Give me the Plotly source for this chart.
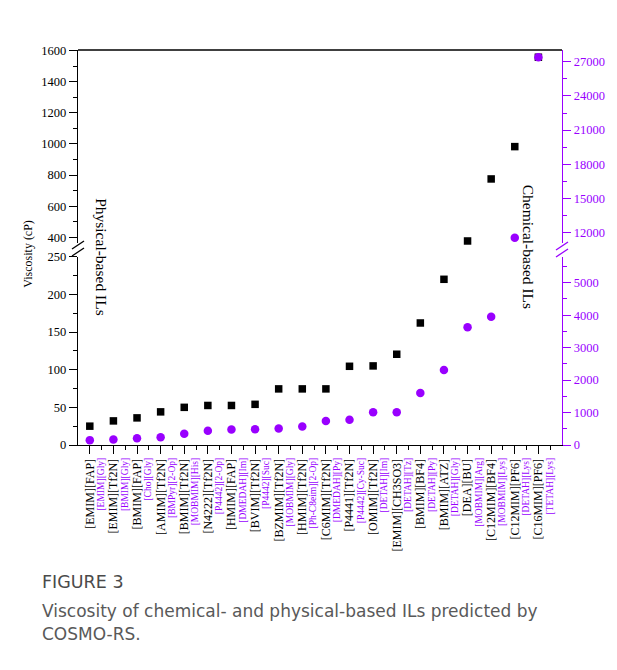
import numpy as np
import plotly.graph_objects as go

# ---------------- data ----------------
physical_ils = ["[EMIM][FAP]", "[EMIM][Tf2N]", "[BMIM][FAP]", "[AMIM][Tf2N]", "[BMIM][Tf2N]",
                "[N4222][Tf2N]", "[HMIM][FAP]", "[BVIM][Tf2N]", "[BZMIM][Tf2N]", "[HMIM][Tf2N]",
                "[C6MIM][Tf2N]", "[P4441][Tf2N]", "[OMIM][Tf2N]", "[EMIM][CH3SO3]", "[BMIM][BF4]",
                "[BMIM][ATZ]", "[DEA][BU]", "[C12MIM][BF4]", "[C12MIM][PF6]", "[C16MIM][PF6]"]
chemical_ils = ["[EMIM][Gly]", "[BMIM][Gly]", "[Cho][Gly]", "[BMPyr][2-Op]", "[MOBMIM][His]",
                "[P4442][2-Op]", "[DMEDAH][Im]", "[P4442][Suc]", "[MOBMIM][Gly]", "[Ph-C8eim][2-Op]",
                "[DMEDAH][Py]", "[P4442][Cy-Suc]", "[DETAH][Im]", "[DETAH][Tz]", "[DETAH][Py]",
                "[DETAH][Gly]", "[MOBMIM][Arg]", "[MOBMIM][Lys]", "[DETAH][Lys]", "[TETAH][Lys]"]
physical_visc = [25, 32, 36, 44, 50, 52.5, 52.5, 54, 74.5, 74.5,
                 74.5, 104.5, 105, 120.5, 162, 220, 376, 775, 983, 1558]
chemical_visc = [150, 170, 210, 240, 350, 440, 480, 485, 510, 570,
                 740, 780, 1010, 1010, 1600, 2310, 3630, 3950, 11560, 27390]

# axis ranges (broken axes)
left_low = [0, 250]
left_high = [363, 1604.5]
right_low = [0, 5800]
right_high = [11096, 28026]

BLACK = "#000000"
PURPLE = "#9900ff"
SERIF = "Liberation Serif"
CAPTION_FONT = "DejaVu Sans"

# ---------------- geometry ----------------
W, H = 617, 670
L, R, T, B = 78, 49, 50, 225
PW, PH = W - L - R, H - T - B
bottom_px = H - B


def py(ypix):
    return (bottom_px - ypix) / PH


def px(xpix):
    return (xpix - L) / PW


low_dom = [0, py(256.7)]
high_dom = [py(243), 1]

idx = np.arange(len(physical_ils))
pv = np.array(physical_visc, dtype=float)
cv = np.array(chemical_visc, dtype=float)

fig = go.Figure()

m_pl = pv <= left_low[1]
m_ph = pv >= left_high[0]
m_cl = cv <= right_low[1]
m_ch = cv >= right_high[0]

fig.add_trace(go.Scatter(x=idx[m_pl], y=pv[m_pl], mode="markers", xaxis="x", yaxis="y",
                         marker=dict(symbol="square", size=7.5, color=BLACK),
                         cliponaxis=False, showlegend=False))
fig.add_trace(go.Scatter(x=idx[m_ph], y=pv[m_ph], mode="markers", xaxis="x", yaxis="y2",
                         marker=dict(symbol="square", size=7.5, color=BLACK),
                         cliponaxis=False, showlegend=False))
fig.add_trace(go.Scatter(x=idx[m_cl], y=cv[m_cl], mode="markers", xaxis="x3", yaxis="y3",
                         marker=dict(symbol="circle", size=8.5, color=PURPLE),
                         cliponaxis=False, showlegend=False))
fig.add_trace(go.Scatter(x=idx[m_ch], y=cv[m_ch], mode="markers", xaxis="x3", yaxis="y4",
                         marker=dict(symbol="circle", size=8.5, color=PURPLE),
                         cliponaxis=False, showlegend=False))

xrange = [-0.5, 20]
common_y = dict(showgrid=False, zeroline=False, showline=True, linewidth=1.3,
                ticks="outside", ticklen=8, tickwidth=1.2, tickformat="d")

fig.update_layout(
    width=W, height=H,
    margin=dict(l=L, r=R, t=T, b=B),
    paper_bgcolor="white", plot_bgcolor="white",
    showlegend=False,
    xaxis=dict(domain=[0, 1], anchor="y", range=xrange, showgrid=False, zeroline=False,
               showline=True, linecolor=BLACK, linewidth=1.3,
               tickmode="array", tickvals=idx, ticktext=physical_ils, tickangle=-90,
               ticks="outside", ticklen=8, tickwidth=1.2, tickcolor=BLACK,
               tickfont=dict(family=SERIF, size=12, color=BLACK),
               minor=dict(tickmode="array", tickvals=idx + 0.5, ticks="outside",
                          ticklen=4, tickwidth=1.2, tickcolor=BLACK)),
    xaxis3=dict(overlaying="x", anchor="y", side="bottom", range=xrange, showgrid=False,
                zeroline=False, showline=False,
                tickmode="array", tickvals=idx + 0.47, ticktext=chemical_ils, tickangle=-90,
                ticks="outside", ticklen=8, tickcolor="rgba(0,0,0,0)",
                tickfont=dict(family=SERIF, size=9.5, color=PURPLE)),
    yaxis=dict(domain=low_dom, anchor="x", range=left_low, linecolor=BLACK, tickcolor=BLACK,
               tickmode="linear", tick0=0, dtick=50,
               minor=dict(dtick=25, ticks="outside", ticklen=4, tickwidth=1.2, tickcolor=BLACK),
               tickfont=dict(family=SERIF, size=12.5, color=BLACK), **common_y),
    yaxis2=dict(domain=high_dom, anchor="x", range=left_high, linecolor=BLACK, tickcolor=BLACK,
                tickmode="linear", tick0=0, dtick=200,
                minor=dict(dtick=100, ticks="outside", ticklen=4, tickwidth=1.2, tickcolor=BLACK),
                tickfont=dict(family=SERIF, size=12.5, color=BLACK), **common_y),
    yaxis3=dict(overlaying="y", anchor="x", side="right", range=right_low,
                linecolor=PURPLE, tickcolor=PURPLE,
                tickmode="linear", tick0=0, dtick=1000,
                minor=dict(dtick=500, ticks="outside", ticklen=4, tickwidth=1.2, tickcolor=PURPLE),
                tickfont=dict(family=SERIF, size=12.5, color=PURPLE), **common_y),
    yaxis4=dict(overlaying="y2", anchor="x", side="right", range=right_high,
                linecolor=PURPLE, tickcolor=PURPLE,
                tickmode="linear", tick0=0, dtick=3000,
                minor=dict(dtick=1500, ticks="outside", ticklen=4, tickwidth=1.2, tickcolor=PURPLE),
                tickfont=dict(family=SERIF, size=12.5, color=PURPLE), **common_y),
)

# top frame line
fig.add_shape(type="line", xref="paper", yref="paper", x0=0, x1=1, y0=1, y1=1,
              line=dict(color=BLACK, width=1.3))

# axis break marks
for xp, col, yc in [(0, BLACK, 248.5), (1, PURPLE, 249.5)]:
    for dy in (-3.5, 3.5):
        fig.add_shape(type="line", xref="paper", yref="paper",
                      xsizemode="pixel", xanchor=xp, x0=-6, x1=6,
                      ysizemode="pixel", yanchor=py(yc + dy), y0=-4, y1=4,
                      line=dict(color=col, width=1.3))

ann = []
ann.append(dict(text="Viscosity (cP)", x=px(18), y=py(254), xref="paper", yref="paper",
                showarrow=False, textangle=-90, font=dict(family=SERIF, size=12, color=BLACK)))
ann.append(dict(text="Physical-based ILs", x=px(91), y=py(257.5), xref="paper", yref="paper",
                showarrow=False, textangle=90, font=dict(family=SERIF, size=15.5, color=BLACK)))
ann.append(dict(text="Chemical-based ILs", x=px(545), y=py(246.5), xref="paper", yref="paper",
                showarrow=False, textangle=90, font=dict(family=SERIF, size=15.5, color=BLACK)))
ann.append(dict(text="FIGURE 3", x=px(40), y=py(582), xref="paper", yref="paper",
                xanchor="left", yanchor="middle", showarrow=False,
                font=dict(family=CAPTION_FONT, size=17.5, color="#4a4a4a")))
ann.append(dict(text="Viscosity of chemical- and physical-based ILs predicted by",
                x=px(40), y=py(611), xref="paper", yref="paper",
                xanchor="left", yanchor="middle", showarrow=False,
                font=dict(family=CAPTION_FONT, size=17, color="#595959")))
ann.append(dict(text="COSMO-RS.", x=px(40), y=py(634), xref="paper", yref="paper",
                xanchor="left", yanchor="middle", showarrow=False,
                font=dict(family=CAPTION_FONT, size=17, color="#595959")))
fig.update_layout(annotations=ann)

fig.write_html("out.html")
